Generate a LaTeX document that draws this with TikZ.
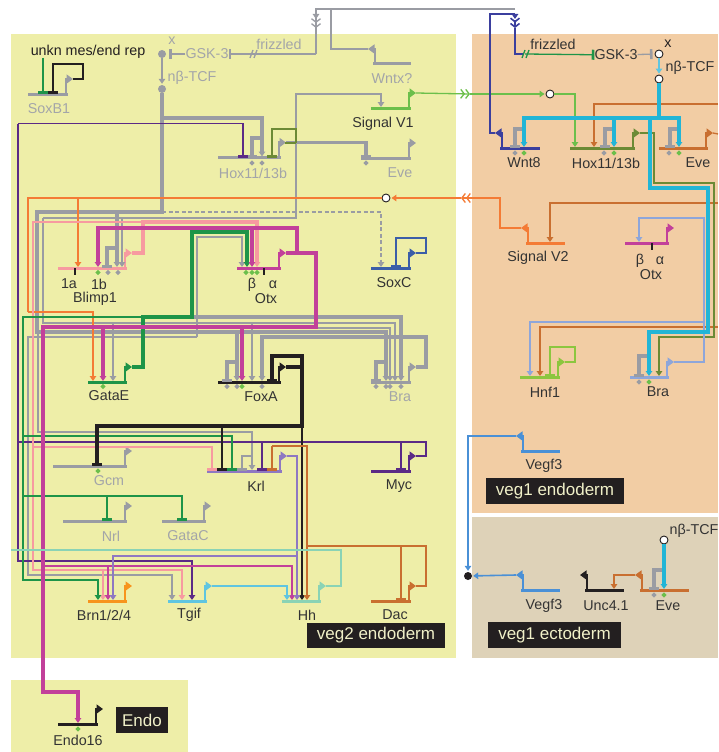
\documentclass[tikz,border=0pt]{standalone}
\usepackage{fontspec}
\setmainfont{Liberation Sans}
\usepackage{xcolor}
\usetikzlibrary{arrows.meta,shapes.geometric}
\definecolor{cYellow}{HTML}{EEEEA8}
\definecolor{cPeach}{HTML}{F2CDA4}
\definecolor{cBeige}{HTML}{DED2B8}
\definecolor{cGray}{HTML}{9A9CA3}
\definecolor{cLab}{HTML}{A3A5A8}
\definecolor{cText}{HTML}{333333}
\definecolor{cBlack}{HTML}{231F20}
\definecolor{cPurp}{HTML}{5B2A86}
\definecolor{cDGreen}{HTML}{1E9448}
\definecolor{cMag}{HTML}{C2409A}
\definecolor{cPink}{HTML}{F79AA0}
\definecolor{cOrange}{HTML}{F47B35}
\definecolor{cBrown}{HTML}{C96F30}
\definecolor{cOlive}{HTML}{6C8A35}
\definecolor{cLGreen}{HTML}{6CBF4B}
\definecolor{cHnf}{HTML}{8CC63F}
\definecolor{cBlue}{HTML}{3B5EA8}
\definecolor{cNavy}{HTML}{3B3F9E}
\definecolor{cCyan}{HTML}{22B5D6}
\definecolor{cCyanL}{HTML}{5FC5E0}
\definecolor{cPeri}{HTML}{8EA6DA}
\definecolor{cVio}{HTML}{8E78C2}
\definecolor{cTeal}{HTML}{8AD3B5}
\definecolor{cAmber}{HTML}{F7941D}
\definecolor{cVegf}{HTML}{4A90D6}
\definecolor{cCream}{HTML}{F0F0C8}
\tikzset{
genebar/.style={
line width=3pt,
draw=#1
},
prom/.style={
line width=2.2pt,
draw=#1,
-{Triangle[length=6.5pt,width=9pt]}
},
thinw/.style={
line width=1.3pt,
draw=#1
},
fatw/.style={
line width=3.3pt,
draw=#1
},
dashw/.style={
line width=1.3pt,
draw=#1,
dash pattern=on 4pt off 2.5pt
},
arr/.style={
-{Triangle[length=5pt,width=6.5pt]},
shorten >=1pt
},
tee/.style={
-{Rectangle[length=2.6pt,width=10pt]}
},
chevs/.style={
-{Straight Barb[length=3.5pt,width=9pt] Straight Barb[length=3.5pt,width=9pt]}
},
hub/.style={
circle,
inner sep=0pt,
minimum size=8pt,
fill=#1
},
openhub/.style={
circle,
inner sep=0pt,
minimum size=8pt,
fill=white,
draw=cBlack,
line width=0.9pt
},
dmd/.style={
diamond,
inner sep=0pt,
minimum size=5.5pt,
fill=#1
},
genelab/.style={
text=cText,
inner sep=0pt,
font=\fontsize{14.3}{14.3}\selectfont
},
graylab/.style={
genelab,
text=cLab
},
tagbox/.style={
fill=cBlack,
text=cCream,
inner sep=0pt,
font=\fontsize{17}{17}\selectfont
}
}
\newcommand{\geneR}[5]{
\draw[genebar=#5] (#2,#4) coordinate (#1) -- (#3,#4);
\draw[prom=#5] (#3-2,#4) |- ++(7,-15) coordinate (#1p);
}
\newcommand{\geneL}[5]{
\draw[genebar=#5] (#2,#4) coordinate (#1) -- (#3,#4);
\draw[prom=#5] (#2+2,#4) |- ++(-7,-15) coordinate (#1p);
}
\begin{document}
\begin{tikzpicture}[x=1pt,y=-1pt]
\useasboundingbox (0,0) rectangle (718,752);
% panels
\fill[cYellow] (11,34) rectangle (456,658);
\fill[cYellow] (11,680) rectangle (188,752);
\fill[cPeach] (472,34) rectangle (718,513);
\fill[cBeige] (472,517) rectangle (718,658);

% veg2 genes
\geneR{soxb}{28}{68}{94}{cGray}
\geneL{wntx}{373}{411}{64}{cGray}
\geneR{sigvi}{371}{411}{108}{cLGreen}
\geneR{hox}{218}{281}{157.5}{cGray}
\geneR{eve}{361}{411}{158}{cGray}
\geneR{blimp}{58}{127}{268}{cPink}
\geneR{otx}{237}{281}{268}{cMag}
\geneR{soxc}{371}{411}{268}{cBlue}
\geneR{gatae}{88}{127}{382}{cDGreen}
\geneR{foxa}{218}{281}{382}{cBlack}
\geneR{bra}{371}{411}{382}{cGray}
\geneR{gcm}{53}{127}{466}{cGray}
\geneR{krl}{207}{282}{471}{cVio}
\geneR{myc}{371}{411}{471}{cPurp}
\geneR{nrl}{63}{127}{521}{cGray}
\geneR{gatac}{162}{206}{521}{cGray}
\geneR{brn}{88}{127}{601}{cAmber}
\geneR{tgif}{168}{207}{601}{cCyanL}
\geneR{hh}{282}{321}{601}{cTeal}
\geneR{dac}{371}{411}{601}{cBrown}
\geneR{endo}{58}{98}{724}{cBlack}
% veg1 genes
\geneL{wnt}{500}{540}{148}{cNavy}
\geneR{hoxr}{570}{635}{148}{cOlive}
\geneR{evr}{659}{708}{148}{cBrown}
\geneL{sigtwo}{526}{565}{243}{cOrange}
\geneR{otxr}{625}{669}{243}{cMag}
\geneR{hnf}{520}{560}{377}{cHnf}
\geneR{brar}{630}{669}{377}{cPeri}
\geneL{vege}{521}{560}{451}{cVegf}
\geneL{vegc}{521}{560}{590}{cVegf}
\geneL{unc}{585}{624}{590}{cBlack}
\geneL{evec}{640}{689}{590}{cBrown}

% hubs
\node[hub=cGray](xg) at (162,54){};
\node[hub=cGray](tcfg) at (162,89){};
\node[openhub](wo) at (386,198){};
\node[openhub](wg) at (550,94){};
\node[openhub](xr) at (659,54){};
\node[openhub](tcfr) at (659,79){};
\node[openhub](wc) at (664,540){};
\node[hub=cBlack](vblack) at (468,576){};

% signalling labels
\node[graylab](gskg) at (207,54){GSK-3};
\node[genelab](gskr) at (616,55){GSK-3};

% top of the left side
\draw[thinw=cDGreen,tee] (43,58)--(43,0 |- soxb);
\draw[thinw=cBlack,line width=1.6pt,tee] (soxbp) -| (83,64) -| (53,0 |- soxb);
\draw[thinw=cGray,tee,shorten >=3pt] (gskg)--(xg);
\draw[thinw=cGray,arr] (xg)--(tcfg);
\draw[thinw=cGray,tee] (316,54)--(gskg);
\draw[thinw=cGray] (250,58)--(253,50);
\draw[thinw=cGray] (254,58)--(257,50);
\draw[thinw=cGray] (515,9)--(316,9)--(316,54);
\draw[thinw=cGray,line width=1.8pt,arr] (316,9)--(316,20);
\draw[thinw=cGray,chevs] (316,20)--(316,28);
\draw[thinw=cGray] (331,9) |- (wntxp);

% gray wires
\draw[dashw=cGray,arr] (162,212) -| (381,0 |- soxc);
\draw[thinw=cGray,arr] (43,218) -| (296,94) -| (381,0 |- sigvi);
\draw[thinw=cGray,arr] (43,218) |- (395,323)--(395,0 |- bra);
\draw[thinw=cGray,arr] (122,218)--(122,0 |- blimp);
\draw[thinw=cGray,arr] (113,323)--(113,0 |- gatae);
\draw[thinw=cGray,arr] (252,323)--(252,0 |- foxa);
\draw[thinw=cGray,arr] (197,337) |- (242,237)--(242,0 |- otx);
\draw[thinw=cGray,arr] (197,337) -| (28,575) -| (172,0 |- tgif);
\draw[thinw=cGray,arr] (197,328) -| (390,0 |- bra);
\draw[thinw=cGray,arr] (38,332) |- (252,432)--(252,0 |- krl);
\draw[thinw=cGray,tee] (252,456) -| (242,0 |- krl);
\draw[fatw=cGray,arr] (192,317) -| (401,0 |- bra);
\draw[fatw=cGray,arr] (tcfg) |- (37,212) |- (386,332)--(386,0 |- bra);
\draw[fatw=cGray,arr] (162,118) -| (262,0 |- hox);
\draw[fatw=cGray,tee] (262,138) -| (252,0 |- hox);
\draw[fatw=cGray,tee] (hoxp) -| (366,0 |- eve);
\draw[thinw=cOlive,tee] (296,143) |- (272,129)--(272,0 |- hox);
\draw[thinw=cOlive] (285,143)--(296,143);
\draw[fatw=cGray,arr] (117,212)--(117,0 |- blimp);
\draw[fatw=cGray,tee] (117,248) -| (107,0 |- blimp);
\draw[fatw=cGray,arr] (237,332)--(237,0 |- foxa);
\draw[fatw=cGray,tee] (237,362) -| (227,0 |- foxa);
\draw[fatw=cGray,arr] (brap) -| (426,337) -| (262,0 |- foxa);
\draw[fatw=cGray,tee] (386,362) -| (376,0 |- bra);

% purple
\draw[thinw=cPurp,tee] (18,123.5) -| (243,0 |- hox);
\draw[thinw=cPurp] (18,123.5) |- (426,442) |- (mycp);
\draw[thinw=cPurp,tee] (401,442)--(401,0 |- myc);
\draw[thinw=cPurp,tee] (262,442)--(262,0 |- krl);
\draw[thinw=cPurp,arr] (18,442) |- (192,561)--(192,0 |- tgif);

% orange
\draw[thinw=cOrange,chevs] (sigtwop) -| (500,198)--(461,198);
\draw[thinw=cOrange,arr] (461,198)--(wo);
\draw[thinw=cOrange] (wo) -| (28,312);
\draw[thinw=cOrange,arr] (28,312) -| (93,0 |- gatae);
\draw[thinw=cOrange,arr] (78,198)--(78,0 |- blimp);

% pink
\draw[thinw=cPink,arr] (143,222) -| (33,570) -| (182,0 |- tgif);
\draw[thinw=cPink,arr] (103,570)--(103,0 |- brn);
\draw[thinw=cPink,tee] (33,447) -| (212,0 |- krl);
\draw[fatw=cPink,arr] (blimpp) -| (143,222) -| (257,0 |- otx);

% dark green
\draw[thinw=cDGreen,tee] (143,317) -| (23,436) -| (232,0 |- krl);
\draw[thinw=cDGreen,arr] (23,436) |- (98,580)--(98,0 |- brn);
\draw[thinw=cDGreen,tee] (23,496) -| (182,0 |- gatac);
\draw[thinw=cDGreen,tee] (107,496)--(107,0 |- nrl);
\draw[fatw=cDGreen,arr] (gataep) -| (143,317) -| (192,232) -| (247,0 |- otx);

% magenta
\draw[thinw=cMag,arr] (43,566) -| (292,0 |- hh);
\draw[thinw=cMag,arr] (108,566)--(108,0 |- brn);
\draw[fatw=cMag,arr] (otxp) -| (316,327) -| (43,692) -| (78,0 |- endo);
\draw[fatw=cMag,arr] (297,252) |- (98,228)--(98,0 |- blimp);
\draw[fatw=cMag,arr] (252,228)--(252,0 |- otx);
\draw[fatw=cMag,arr] (103,327)--(103,0 |- gatae);
\draw[fatw=cMag,arr] (242,327)--(242,0 |- foxa);

% black
\draw[fatw=cBlack,tee] (foxap) -| (302,356) -| (272,0 |- foxa);
\draw[fatw=cBlack,tee] (302,367) |- (97,426)--(97,0 |- gcm);
\draw[thinw=cBlack,tee] (222,426)--(222,0 |- krl);
\draw[thinw=cBlack,arr] (302,426)--(302,0 |- hh);

% lower genes
\draw[thinw=cBrown,arr] (272,446) -| (307,0 |- hh);
\draw[thinw=cBrown,tee] (272,446)--(272,0 |- krl);
\draw[thinw=cBrown] (dacp) -| (426,546)--(307,546);
\draw[thinw=cBrown,tee] (401,546)--(401,0 |- dac);
\draw[thinw=cVio,arr] (krlp) -| (297,0 |- hh);
\draw[thinw=cVio,arr] (297,556) -| (113,0 |- brn);
\draw[thinw=cCyanL,arr] (tgifp) -| (287,0 |- hh);
\draw[thinw=cTeal] (hhp) -| (341,550)--(11,550);
\draw[thinw=cBlue,tee] (soxcp) -| (426,238) -| (396,0 |- soxc);

% green signal
\draw[thinw=cLGreen,chevs] (sigvip)--(470,94);
\draw[thinw=cLGreen,arr] (470,94)--(wg);
\draw[thinw=cLGreen,arr] (wg) -| (575,0 |- hoxr);

% right side
\draw[thinw=cNavy,line width=1.6pt] (wntp) -| (490,14)--(515,14);
\draw[thinw=cNavy,line width=1.8pt,arr] (515,14)--(515,20);
\draw[thinw=cNavy,line width=1.6pt,chevs] (515,20)--(515,28);
\draw[thinw=cNavy,line width=1.6pt] (515,28) |- (523,54);
\draw[thinw=cDGreen,tee] (525,54)--(gskr);
\draw[thinw=cDGreen] (522,58)--(525,50);
\draw[thinw=cDGreen] (526,58)--(529,50);
\draw[thinw=cGray,tee,shorten >=2pt] (gskr)--(xr);
\draw[thinw=cCyanL,arr] (xr)--(tcfr);
\draw[thinw=cBrown,arr] (718,104) -| (594,0 |- hoxr);
\draw[thinw=cBrown,arr] (718,203) -| (550,0 |- sigtwo);
\draw[thinw=cBrown,arr] (718,327) -| (540,0 |- hnf);
\draw[thinw=cBrown] (evrp)--(718,134);
\draw[thinw=cOlive,arr] (hoxrp) -| (654,183) -| (714,337) -| (659,0 |- brar);
\draw[thinw=cPeri,arr] (brarp) -| (704,218) -| (639,0 |- otxr);
\draw[thinw=cPeri,arr] (704,322) -| (530,0 |- hnf);
\draw[thinw=cHnf,tee] (hnfp) -| (575,347) -| (550,0 |- hnf);
\draw[fatw=cGray,tee] (524,129) -| (515,0 |- wnt);
\draw[fatw=cGray,tee] (614,129) -| (605,0 |- hoxr);
\draw[fatw=cGray,tee] (679,129) -| (670,0 |- evr);
\draw[fatw=cGray,tee] (649,356) -| (639,0 |- brar);
\draw[fatw=cCyan] (tcfr)--(659,118);
\draw[fatw=cCyan,arr] (659,118) -| (524,0 |- wnt);
\draw[fatw=cCyan,arr] (659,118) -| (679,0 |- evr);
\draw[fatw=cCyan,arr] (614,118)--(614,0 |- hoxr);
\draw[fatw=cCyan,arr] (650,118) |- (708,188) |- (649,332)--(649,0 |- brar);

% vegf and ectoderm
\draw[thinw=cVegf,line width=1.6pt,arr] (vegep) -| (vblack);
\draw[thinw=cVegf,line width=1.6pt,arr] (vegcp)--(vblack);
\draw[thinw=cBrown,arr] (evecp) -| (614,0 |- unc);
\draw[fatw=cGray,tee] (664,570) -| (654,0 |- evec);
\draw[fatw=cCyan,arr] (wc)--(664,0 |- evec);

% marks under the genes
\foreach \x/\y/\c [count=\i] in {252/163/cGray,262/163/cGray,366/163/cGray,98/272.5/cLGreen,108/272.5/cGray,118/272.5/cGray,
246/272.5/cLGreen,252/272.5/cLGreen,257/272.5/cLGreen,103/386.5/cLGreen,227/386.5/cGray,237/386.5/cGray,242/386.5/cLGreen,262/386.5/cGray,
376/386.5/cGray,386/386.5/cGray,390/386.5/cGray,401/386.5/cGray,98/471/cLGreen,515/153/cGray,524/153/cLGreen,604/153/cGray,614/153/cLGreen,
669/153/cGray,679/153/cLGreen,639/382/cGray,649/382/cLGreen,654/595/cGray,664/595/cLGreen,78/729/cLGreen}
\node[dmd=\c](dot\i) at (\x,\y){};
\draw[thinw=cBlack] (75,268)--(75,275);
\draw[thinw=cBlack] (264,268)--(264,275);
\draw[thinw=cBlack] (652,243)--(652,250);

% labels
\node[genelab,text=cBlack](lunkn) at (88,52){unkn mes/end rep};
\node[graylab](lsoxb) at (49,109){SoxB1};
\node[graylab](lxg) at (172,41){x};
\node[graylab](ltcfg) at (192,78){nβ-TCF};
\node[graylab](lfrizg) at (279,44){frizzled};
\node[graylab](lwntx) at (392,79){Wntx?};
\node[genelab](lsigvi) at (383,124){Signal V1};
\node[graylab](lhox) at (253,173){Hox11/13b};
\node[graylab](leve) at (400,173){Eve};
\node[genelab](l1a) at (69,284){1a};
\node[genelab](l1b) at (99,284){1b};
\node[genelab](lblimp) at (95,299){Blimp1};
\node[genelab](lbeta) at (252,285){β};
\node[genelab](lalpha) at (273,285){α};
\node[genelab](lotx) at (266,299){Otx};
\node[genelab](lsoxc) at (394,283){SoxC};
\node[genelab](lgatae) at (109,396){GataE};
\node[genelab](lfoxa) at (261,397){FoxA};
\node[graylab](lbra) at (400,397){Bra};
\node[graylab](lgcm) at (109,481){Gcm};
\node[genelab](lkrl) at (256,486){Krl};
\node[genelab](lmyc) at (399,486){Myc};
\node[graylab](lnrl) at (111,536){Nrl};
\node[graylab](lgatac) at (188,536){GataC};
\node[genelab](lbrn) at (104,615){Brn1/2/4};
\node[genelab](ltgif) at (189,615){Tgif};
\node[genelab](lhh) at (307,615){Hh};
\node[genelab](ldac) at (395,615){Dac};
\node[genelab](lendo) at (78,740){Endo16};
\node[genelab](lfrizr) at (553,44){frizzled};
\node[genelab,text=cBlack](lxr) at (668,44){x};
\node[genelab](ltcfr) at (690,68){nβ-TCF};
\node[genelab](lwnt) at (524,163){Wnt8};
\node[genelab](lhoxr) at (606,163){Hox11/13b};
\node[genelab](levr) at (698,163){Eve};
\node[genelab](lsigtwo) at (538,258){Signal V2};
\node[genelab](lbetar) at (640,261){β};
\node[genelab](lalphar) at (660,261){α};
\node[genelab](lotxr) at (651,275){Otx};
\node[genelab](lhnf) at (545,392){Hnf1};
\node[genelab](lbrar) at (658,392){Bra};
\node[genelab](lvege) at (544,466){Vegf3};
\node[genelab](lvegc) at (544,606){Vegf3};
\node[genelab](lunc) at (606,606){Unc4.1};
\node[genelab](levec) at (668,606){Eve};
\node[genelab](ltcfc) at (694,531){nβ-TCF};

% tags
\node[tagbox,minimum width=138pt,minimum height=25pt](tveg) at (376,635.5){veg2 endoderm};
\node[tagbox,minimum width=138pt,minimum height=26pt](tend) at (555,491){veg1 endoderm};
\node[tagbox,minimum width=133pt,minimum height=26pt](tect) at (554.5,635){veg1 ectoderm};
\node[tagbox,minimum width=52pt,minimum height=26pt](tendo) at (142,720){Endo};
\end{tikzpicture}
\end{document}
